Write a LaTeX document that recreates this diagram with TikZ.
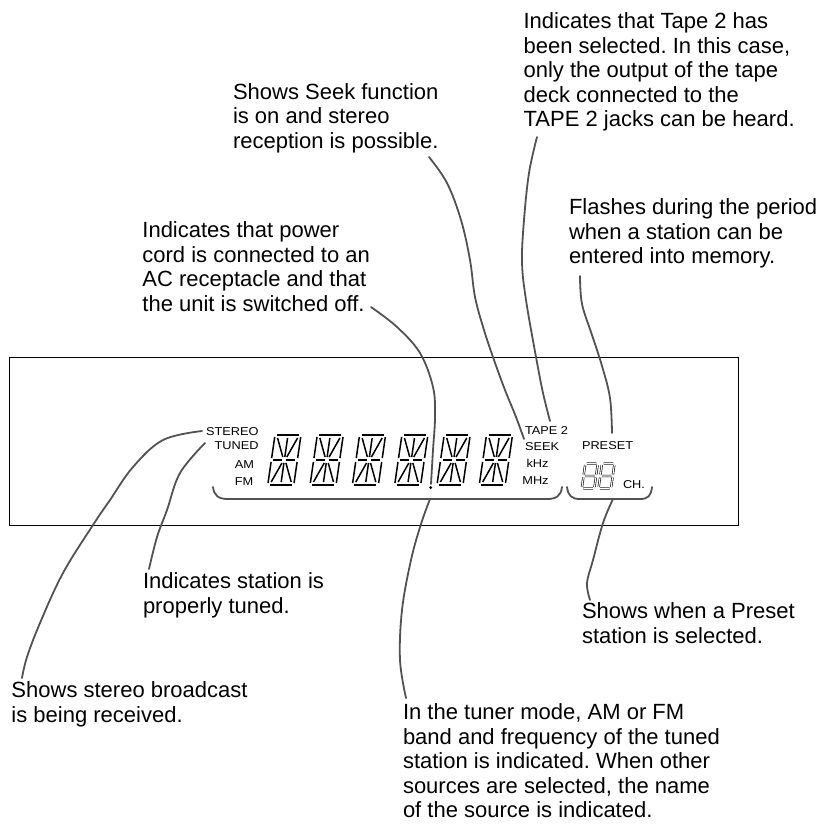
\documentclass[tikz,border=0pt]{standalone}
\usepackage{fontspec}
\setmainfont{Liberation Sans}
\newfontfamily\lcdfamily[FakeStretch=1.12]{Liberation Sans}
\frenchspacing
\newcommand\bigtxt{\fontsize{22}{24.5}\selectfont}
\newcommand\lcdtxt{\lcdfamily\fontsize{11.4}{13}\selectfont}
\newcommand\blk[1]{\vtop{\bigtxt\halign{##\hfil\cr#1\crcr}}}
\newcommand\fourteenseg[2]{%
  \begin{scope}[shift={(#1,#2)},xslant=0.145]
    \draw[segthin] (2,0)--(24,0) (2,50)--(24,50)
      (2,25)--(11,25) (15,25)--(24,25);
    \draw[seg] (0,2)--(0,23) (0,27)--(0,48) (26,2)--(26,23) (26,27)--(26,48)
      (13,3)--(13,22) (13,28)--(13,47)
      (3,3)--(11,22) (23,3)--(15,22)
      (11,28)--(3,47) (15,28)--(23,47);
  \end{scope}}
\newcommand\sevenseg[2]{%
  \begin{scope}[shift={(#1,#2)},xslant=0.14]
    \draw[segseven] (1.5,0)--(11,0) (1.5,12.5)--(11,12.5) (1.5,25)--(11,25)
      (0,1.5)--(0,11) (0,14)--(0,23.5) (12.5,1.5)--(12.5,11) (12.5,14)--(12.5,23.5);
  \end{scope}}
\tikzset{
  callout/.style={anchor=base west, inner sep=0pt, outer sep=0pt},
  lcdlabel/.style={inner sep=0pt, outer sep=0pt, font=\lcdtxt},
  leader/.style={draw=black!68, line width=1.8pt, line cap=round, line join=round},
  panel/.style={draw=black, line width=1pt},
  seg/.style={draw=black, line width=1.5pt},
  segthin/.style={draw=black, line width=1.1pt},
  segseven/.style={draw=black, line width=0.6pt, double=white, double distance=1.1pt},
}
\begin{document}
\begin{tikzpicture}[x=1pt,y=-1pt]
\useasboundingbox (0,0) rectangle (820,824);

% callout texts
\node[callout] (tapeNote) at (523.6,28.7) {\blk{Indicates that Tape 2 has\cr been selected. In this case,\cr only the output of the tape\cr deck connected to the\cr TAPE 2 jacks can be heard.}};
\node[callout] (seekNote) at (233,99.4) {\blk{Shows Seek function\cr is on and stereo\cr reception is possible.}};
\node[callout] (flashNote) at (569,214.6) {\blk{Flashes during the period\cr when a station can be\cr entered into memory.}};
\node[callout] (powerNote) at (142.4,237.8) {\blk{Indicates that power\cr cord is connected to an\cr AC receptacle and that\cr the unit is switched off.}};
\node[callout] (tunedNote) at (143,588.8) {\blk{Indicates station is\cr properly tuned.}};
\node[callout] (presetNote) at (582,618.8) {\blk{Shows when a Preset\cr station is selected.}};
\node[callout] (stereoNote) at (11.5,697.8) {\blk{Shows stereo broadcast\cr is being received.}};
\node[callout] (tunerNote) at (403,719.8) {\blk{In the tuner mode, AM or FM\cr band and frequency of the tuned\cr station is indicated. When other\cr sources are selected, the name\cr of the source is indicated.}};

% display panel
\draw[panel] (9,357) rectangle (738.5,525);

\node[lcdlabel, anchor=base east] (stereo) at (258.5,435) {STEREO};
\node[lcdlabel, anchor=base east] (tuned) at (258.5,449.5) {TUNED};
\node[lcdlabel, anchor=base] (am) at (244.5,468.5) {AM};
\node[lcdlabel, anchor=base] (fm) at (244,485) {FM};
\node[lcdlabel, anchor=base west] (tape) at (525,434.5) {TAPE 2};
\node[lcdlabel, anchor=base west] (seek) at (525,450) {SEEK};
\node[lcdlabel, anchor=base] (khz) at (537.5,467.3) {kHz};
\node[lcdlabel, anchor=base] (mhz) at (535.5,484) {MHz};
\node[lcdlabel, anchor=base west] (preset) at (582,449.8) {PRESET};
\node[lcdlabel, anchor=base west] (ch) at (623,488.3) {CH.};

\foreach \i in {0,...,5} {\fourteenseg{275+42.3*\i}{435}}
\sevenseg{585.3}{463.5}
\sevenseg{602}{463.5}
\coordinate (dp) at (430.7,487.6);
\fill (dp) circle (1.6pt);

% brackets
\coordinate (brA) at (213,487);
\coordinate (brB) at (562,487);
\coordinate (brC) at (567,487);
\coordinate (brD) at (652,487);
\coordinate (brAmid) at (430,499);
\coordinate (brCmid) at (613,499);
\draw[leader] (brA) .. controls (214,496) and (219,499) .. (228,499) -- (547,499) .. controls (556,499) and (561,496) .. (brB);
\draw[leader] (brC) .. controls (568,496) and (572,499) .. (580,499) -- (640,499) .. controls (648,499) and (651,496) .. (brD);

% leader endpoints
\coordinate (stereoA) at (22,678);   \coordinate (stereoB) at (202,431);
\coordinate (tunedA) at (149,569);   \coordinate (tunedB) at (205,443);
\coordinate (powerA) at (371,307);   \coordinate (powerB) at (431,484);
\coordinate (seekA) at (429,157);    \coordinate (seekB) at (524,439);
\coordinate (tapeA) at (537,137);    \coordinate (tapeB) at (550,421);
\coordinate (flashA) at (580,276);   \coordinate (flashB) at (612,433);
\coordinate (tunerA) at (406,698);
\coordinate (presetA) at (590,600);

\draw[leader] plot[smooth, tension=0.6] coordinates {(stereoA) (27,657) (40,623) (63,573) (93,525) (110,500) (133,467) (163,440) (stereoB)};
\draw[leader] plot[smooth, tension=0.6] coordinates {(tunedA) (157,537) (167,510) (180,473) (tunedB)};
\draw[leader] plot[smooth, tension=0.6] coordinates {(powerA) (397,327) (420,353) (433,387) (435,417) (433,450) (powerB)};
\draw[leader] plot[smooth, tension=0.6] coordinates {(seekA) (447,183) (461,220) (470,260) (475,297) (484,330) (494,360) (505,390) (516,417) (seekB)};
\draw[leader] plot[smooth, tension=0.6] coordinates {(tapeA) (529,173) (524,220) (522,262) (526,300) (536,357) (543,393) (tapeB)};
\draw[leader] plot[smooth, tension=0.6] coordinates {(flashA) (582,304) (592,335) (602,366) (610,398) (flashB)};
\draw[leader] plot[smooth, tension=0.6] coordinates {(brAmid) (421,524) (411,560) (402,610) (400,660) (tunerA)};
\draw[leader] plot[smooth, tension=0.6] coordinates {(brCmid) (603,523) (593,560) (587,583) (presetA)};
\end{tikzpicture}
\end{document}
